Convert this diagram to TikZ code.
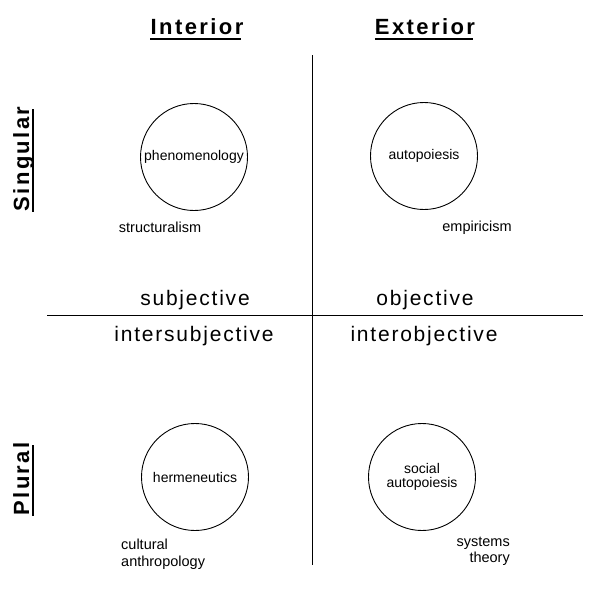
\documentclass[tikz,border=0pt]{standalone}
\usepackage{fontspec}
\setmainfont{Liberation Sans}
\newfontfamily\titlefont[LetterSpace=11]{Liberation Sans Bold}
\newfontfamily\spacedfont[LetterSpace=8.5]{Liberation Sans}
\begin{document}
\begin{tikzpicture}[x=1pt,y=-1pt,
  axis/.style={line width=0.9pt},
  heading/.style={font=\titlefont\fontsize{22}{24}\selectfont, inner sep=0pt, anchor=base},
  sideheading/.style={heading, rotate=90},
  uline/.style={line width=1.1pt},
  zone/.style={circle, draw, line width=0.9pt, minimum size=107pt, inner sep=0pt, align=center, font=\fontsize{14}{14}\selectfont},
  small/.style={font=\fontsize{14.5}{17}\selectfont, inner sep=0pt},
  quad/.style={font=\spacedfont\fontsize{21}{23}\selectfont, inner sep=0pt, anchor=base}]
\useasboundingbox (0,0) rectangle (600,600);
% headings
\node[heading] (int) at (197,34) {Interior};
\node[heading] (ext) at (425,34) {Exterior};
\draw[uline] ([yshift=-5pt]int.base west) -- ([yshift=-5pt,xshift=-2.5pt]int.base east);
\draw[uline] ([yshift=-5pt]ext.base west) -- ([yshift=-5pt,xshift=-2.5pt]ext.base east);
\node[sideheading] (sing) at (29,159) {Singular};
\node[sideheading] (plur) at (29,479) {Plural};
\draw[uline] ([xshift=4pt]sing.base west) -- ([xshift=4pt,yshift=-2.5pt]sing.base east);
\draw[uline] ([xshift=4pt]plur.base west) -- ([xshift=4pt,yshift=-2.5pt]plur.base east);
% axes
\coordinate (vtop) at (312,55);
\coordinate (vbot) at (312,565);
\coordinate (hl) at (47,315);
\coordinate (hr) at (583,315);
\draw[axis] (vtop) -- (vbot);
\draw[axis] (hl) -- (hr);
% circles
\node[zone] (phen) at (194,157) {phenomenology};
\node[zone] (auto) at (424,156) {autopoiesis};
\node[zone] (herm) at (195,477) {hermeneutics};
\node[zone] (soc) at (422,477) {social\\autopoiesis};
% small labels
\node[small, anchor=base] (struc) at (160,232) {structuralism};
\node[small, anchor=base] (emp) at (477,231) {empiricism};
\node[small, anchor=north west, align=left] (cult) at (121,539) {cultural\\anthropology};
\node[small, anchor=north east, align=right, font=\fontsize{14.5}{16}\selectfont] (sys) at (510,537) {systems\\theory};
% quadrant labels
\node[quad] (subj) at (195,305) {subjective};
\node[quad] (obj) at (425,305) {objective};
\node[quad] (isubj) at (194,341) {intersubjective};
\node[quad] (iobj) at (424,341) {interobjective};
\end{tikzpicture}
\end{document}
